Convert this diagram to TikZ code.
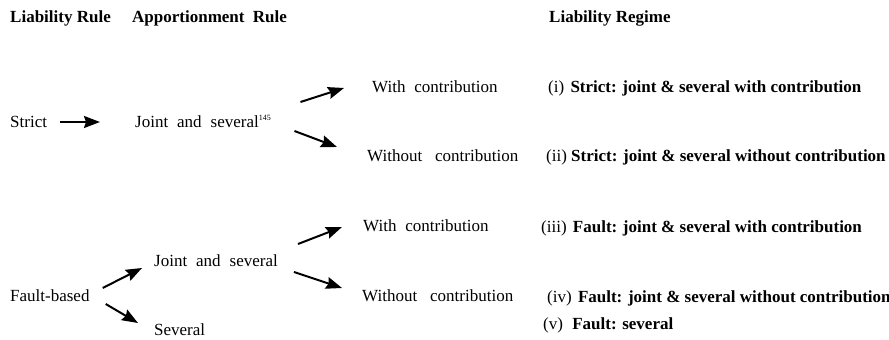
\documentclass[tikz,border=0pt]{standalone}
\usepackage{fontspec}
\setmainfont{Liberation Serif}
\newfontfamily\widefont{Liberation Serif}[WordSpace=2.1]
\usetikzlibrary{arrows.meta}
\begin{document}
\begin{tikzpicture}[x=1pt,y=-1pt,
				every node/.style={inner sep=0pt,anchor=base west},
				txt/.style={font=\fontsize{17}{20}\widefont},
				rg/.style={font=\fontsize{17}{20}\selectfont},
				head/.style={font=\fontsize{17}{20}\selectfont\bfseries},
				arr/.style={line width=2pt,-{Stealth[length=16pt,width=12pt,inset=2pt]}}]
\useasboundingbox (0,0) rectangle (889,340);
% column headings
\node[head] (hliab) at (10,22) {Liability Rule};
\node[head] (happ) at (132,22) {Apportionment\hspace{4pt} Rule};
\node[head] (hreg) at (549,22) {Liability Regime};
% strict liability
\node[txt] (strict) at (10,127) {Strict};
\node[txt] (js1) at (135,127) {Joint and several\textsuperscript{\fontsize{8}{9}\selectfont 145}};
\node[txt] (wc1) at (372,92) {With contribution};
\node[txt] (woc1) at (367,161) {Without\hspace{4pt} contribution};
\node[rg] (r1) at (548,92) {(i)\hspace{2pt} \textbf{Strict: joint \& several with contribution}};
\node[rg] (r2) at (546,161) {(ii) \textbf{Strict: joint \& several without contribution}};
\draw[arr] ([shift={(13,-5)}]strict.base east) -- ([shift={(-35,-5)}]js1.base west);
\draw[arr] ([shift={(29,-25)}]js1.base east) -- ([shift={(-28,-4)}]wc1.base west);
\draw[arr] ([shift={(23,4)}]js1.base east) -- ([shift={(-30,-14)}]woc1.base west);
% fault-based liability
\node[txt] (fault) at (10,301) {Fault-based};
\node[txt] (js2) at (154,266) {Joint and several};
\node[txt] (sev) at (154,335) {Several};
\node[txt] (wc2) at (363,231) {With contribution};
\node[txt] (woc2) at (362,301) {Without\hspace{4pt} contribution};
\node[rg] (r3) at (541,232) {(iii)\hspace{2pt} \textbf{Fault: joint \& several with contribution}};
\node[rg] (r4) at (547,302) {(iv)\hspace{2pt} \textbf{Fault: joint \& several without contribution}};
\node[rg] (r5) at (543,329) {(v)\hspace{5pt} \textbf{Fault: several}};
\draw[arr] ([shift={(13,-13)}]fault.base east) -- ([shift={(-12,2)}]js2.base west);
\draw[arr] ([shift={(16,3)}]fault.base east) -- ([shift={(-16,-12)}]sev.base west);
\draw[arr] ([shift={(20,-22)}]js2.base east) -- ([shift={(-21,-4)}]wc2.base west);
\draw[arr] ([shift={(16,6)}]js2.base east) -- ([shift={(-20,-13)}]woc2.base west);
\end{tikzpicture}
\end{document}
